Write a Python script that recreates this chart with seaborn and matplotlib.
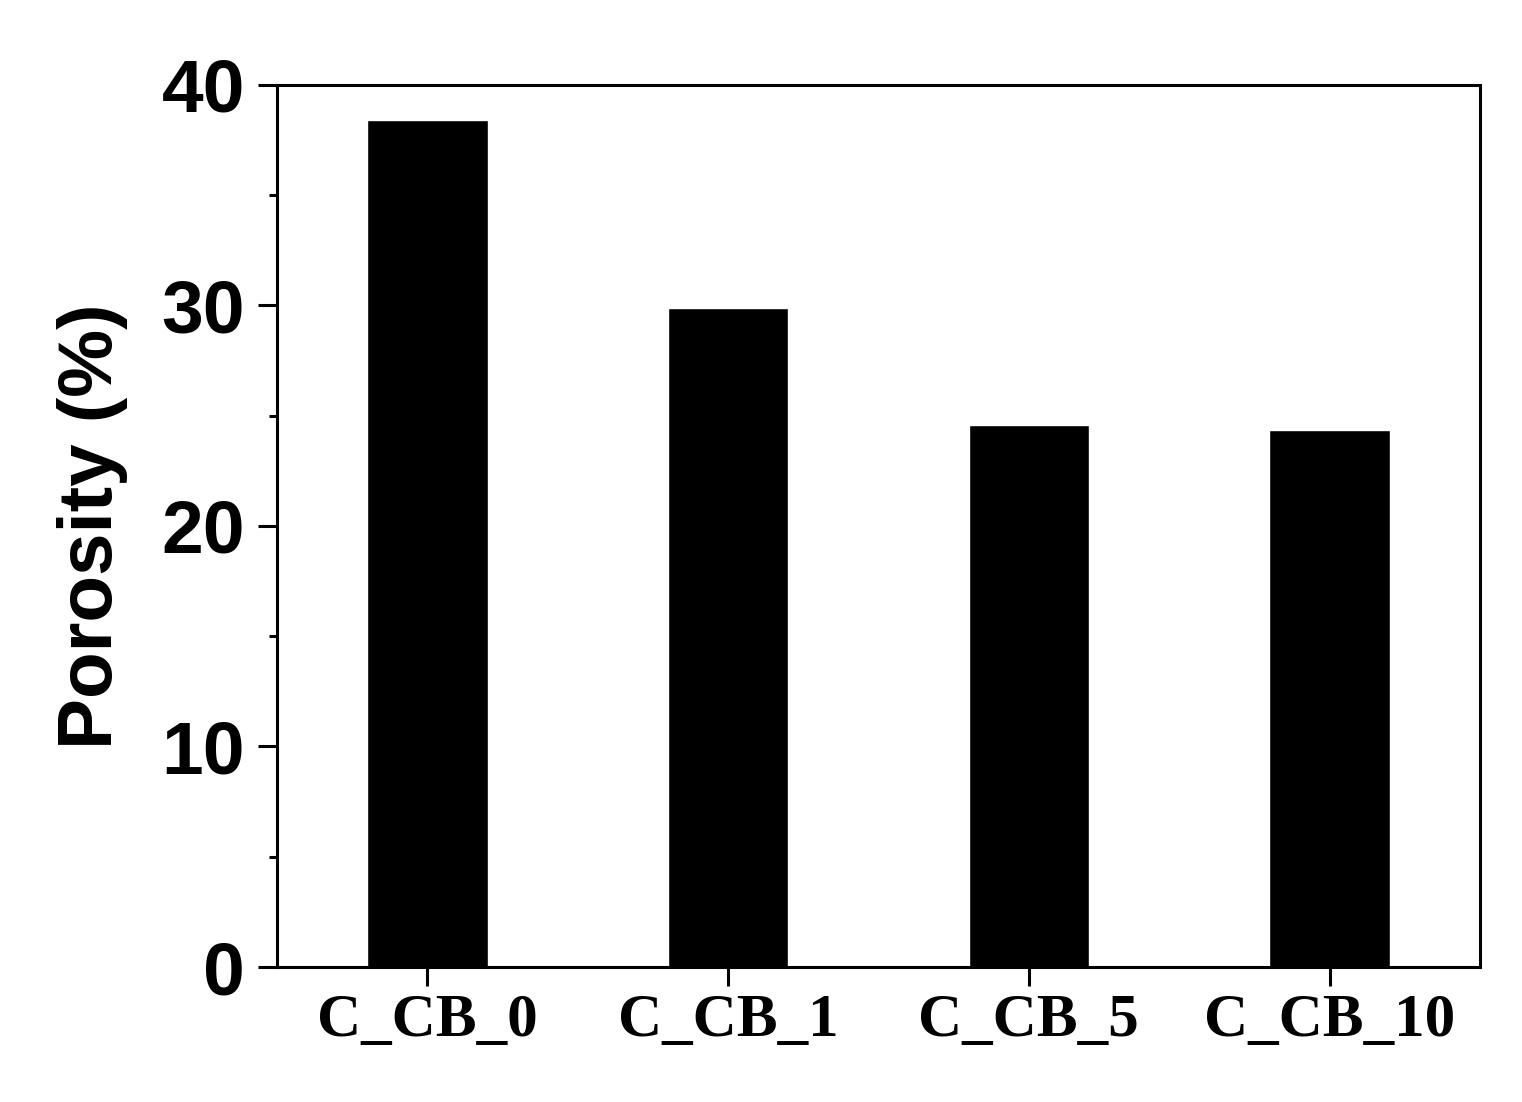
import matplotlib
matplotlib.use("Agg")
import matplotlib.pyplot as plt
import seaborn as sns
import pandas as pd
from matplotlib.ticker import MultipleLocator

# sample names and measured porosity (%)
samples = ["C_CB_0", "C_CB_1", "C_CB_5", "C_CB_10"]
porosity = [38.4, 29.9, 24.6, 24.35]

df = pd.DataFrame({"sample": samples, "porosity": porosity})

sns.set_style("ticks")
plt.rcParams["font.family"] = ["Liberation Sans", "DejaVu Sans"]
plt.rcParams["text.color"] = "black"
plt.rcParams["axes.labelcolor"] = "black"
plt.rcParams["xtick.color"] = "black"
plt.rcParams["ytick.color"] = "black"

fig = plt.figure(figsize=(15.22, 11.02), dpi=100)
ax = fig.add_axes([0.182, 0.1225, 0.7904, 0.8004])

sns.barplot(data=df, x="sample", y="porosity", color="black", width=0.4,
            saturation=1, ax=ax)

ax.set_xlim(-0.5, 3.5)
ax.set_ylim(0, 40)
ax.yaxis.set_major_locator(MultipleLocator(10))
ax.yaxis.set_minor_locator(MultipleLocator(5))

for s in ax.spines.values():
    s.set_visible(True)
    s.set_linewidth(2.2)
    s.set_color("black")

ax.tick_params(axis="both", which="major", direction="out", length=14,
               width=2.2, colors="black")
ax.tick_params(axis="y", which="minor", direction="out", length=6, width=2.2,
               colors="black")
ax.tick_params(axis="y", which="major", pad=9)
ax.tick_params(axis="x", which="major", pad=5)

for lab in ax.get_yticklabels():
    lab.set_fontsize(54)
    lab.set_fontweight("bold")
    lab.set_family("Liberation Sans")
for lab in ax.get_xticklabels():
    lab.set_fontsize(44)
    lab.set_fontweight("bold")
    lab.set_family("Liberation Serif")

ax.set_xlabel("")
ax.set_ylabel("Porosity (%)", fontsize=55, fontweight="bold", labelpad=24,
              color="black")

fig.savefig("out.png", dpi=100, facecolor="white")
